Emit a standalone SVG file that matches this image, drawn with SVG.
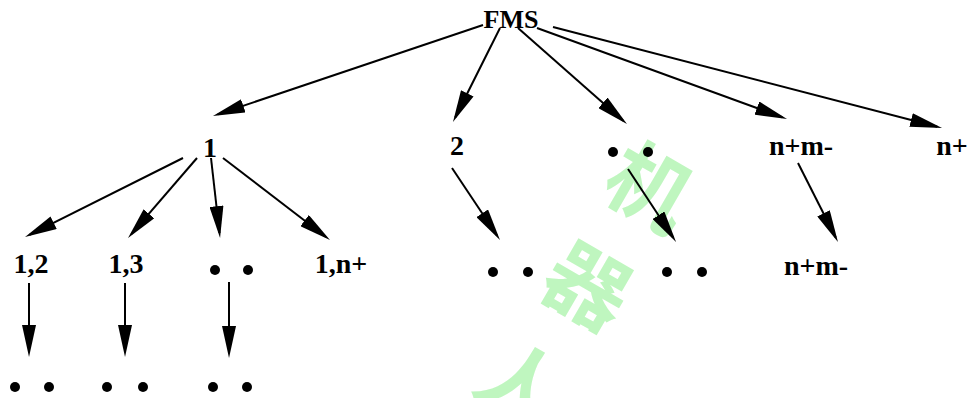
<svg xmlns="http://www.w3.org/2000/svg" width="969" height="398" viewBox="0 0 969 398">
  <style>
    .lbl { font-family: "Liberation Serif", "Times New Roman", serif; font-weight: bold; font-size: 28px; fill: #000; text-anchor: middle; }
    .top { font-size: 26px; }
    .wm { font-family: "Noto Sans CJK SC", sans-serif; font-weight: bold; font-size: 84px; fill: #bff6bf; text-anchor: middle; }
    .edge { stroke: #000; stroke-width: 2; fill: none; marker-end: url(#head); }
    .dot { fill: #000; }
  </style>
  <defs>
    <marker id="head" viewBox="0 0 32 14" refX="27" refY="7" markerWidth="32" markerHeight="14" markerUnits="userSpaceOnUse" orient="auto">
      <path d="M0,0 L32,7 L0,14 z" fill="#000"/>
    </marker>
  </defs>

  <rect width="969" height="398" fill="#fff"/>

  <!-- background mark -->
  <g id="watermark">
    <text class="wm" transform="translate(634,214) rotate(30)">机</text>
    <text class="wm" transform="translate(572,313) rotate(30)">器</text>
    <text class="wm" transform="translate(505,412) rotate(30)">人</text>
  </g>

  <g id="connectors">
    <line class="edge" x1="483" y1="25" x2="217.7" y2="114.4"/>
    <line class="edge" x1="500" y1="28" x2="455.2" y2="117.5"/>
    <line class="edge" x1="518" y1="28" x2="623.2" y2="120.7"/>
    <line class="edge" x1="537" y1="28" x2="782.3" y2="117.3"/>
    <line class="edge" x1="553" y1="27" x2="937.2" y2="126.7"/>

    <line class="edge" x1="183" y1="158" x2="29.5" y2="234.8"/>
    <line class="edge" x1="197" y1="158" x2="131.3" y2="234.2"/>
    <line class="edge" x1="211" y1="158" x2="219.5" y2="233"/>
    <line class="edge" x1="223" y1="158" x2="326" y2="237"/>

    <line class="edge" x1="452" y1="168" x2="497.2" y2="235.8"/>
    <line class="edge" x1="628" y1="169" x2="673.3" y2="237.8"/>
    <line class="edge" x1="798" y1="163" x2="835.7" y2="237.5"/>

    <line class="edge" x1="29" y1="283" x2="29" y2="352"/>
    <line class="edge" x1="125" y1="283" x2="125" y2="352"/>
    <line class="edge" x1="229" y1="282" x2="229" y2="353"/>
  </g>

  <g id="fms"><text class="lbl top" x="511" y="28">FMS</text></g>

  <g id="n1"><text class="lbl" x="210" y="157">1</text></g>
  <g id="n2"><text class="lbl" x="457" y="155">2</text></g>
  <g id="n-mid"><circle class="dot" cx="613" cy="152" r="5"/><circle class="dot" cx="648" cy="152" r="5"/></g>
  <g id="n-nm"><text class="lbl" x="801" y="155">n+m-</text></g>
  <g id="n-np"><text class="lbl" x="952" y="155">n+</text></g>

  <g id="n12"><text class="lbl" x="31" y="273">1,2</text></g>
  <g id="n13"><text class="lbl" x="126" y="273">1,3</text></g>
  <g id="n1-dots"><circle class="dot" cx="215" cy="270" r="5"/><circle class="dot" cx="248" cy="270" r="5"/></g>
  <g id="n1np"><text class="lbl" x="341" y="273">1,n+</text></g>
  <g id="n2-dots"><circle class="dot" cx="493" cy="272" r="5"/><circle class="dot" cx="528" cy="272" r="5"/></g>
  <g id="nmid-dots"><circle class="dot" cx="667" cy="272" r="5"/><circle class="dot" cx="702" cy="272" r="5"/></g>
  <g id="n-nm2"><text class="lbl" x="816" y="275">n+m-</text></g>

  <g id="n12-dots"><circle class="dot" cx="15" cy="387" r="5"/><circle class="dot" cx="49" cy="387" r="5"/></g>
  <g id="n13-dots"><circle class="dot" cx="107" cy="387" r="5"/><circle class="dot" cx="143" cy="387" r="5"/></g>
  <g id="n1d-dots"><circle class="dot" cx="213" cy="387" r="5"/><circle class="dot" cx="247" cy="387" r="5"/></g>
</svg>
